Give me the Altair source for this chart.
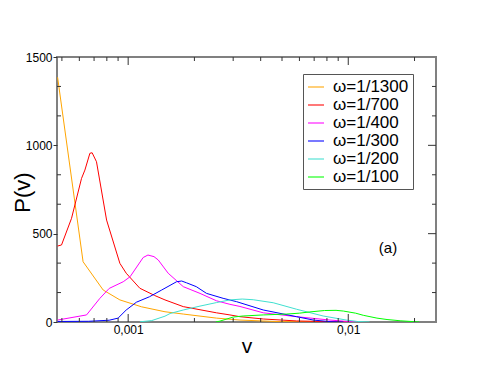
import altair as alt
import pandas as pd

# ---- data ----
series_names = ["ω=1/1300", "ω=1/700", "ω=1/400", "ω=1/300", "ω=1/200", "ω=1/100"]
series_colors = ["#FFA500", "#FF0000", "#FF00FF", "#0000FF", "#40E0D0", "#00FF00"]

v_1300 = [0.000478, 0.000624, 0.00077, 0.000917, 0.00115, 0.00147, 0.00178, 0.00252, 0.00322, 0.0049, 0.0065, 0.01]
p_1300 = [1385, 341, 181, 125, 86, 58, 45, 22, 11, 2, 1, 0]

v_700 = [0.000478, 0.000498, 0.000553, 0.000614, 0.000636, 0.00067, 0.000686, 0.000718, 0.000798, 0.000917,
         0.00098, 0.00113, 0.00132, 0.00147, 0.00178, 0.00252, 0.0029, 0.00322, 0.00411, 0.00583, 0.00826, 0.011]
p_700 = [430, 436, 587, 813, 860, 955, 958, 907, 577, 332, 276, 191, 150, 125, 87, 52, 40, 30, 17, 6, 2, 0]

v_400 = [0.000478, 0.000647, 0.000744, 0.00082, 0.00095, 0.00102, 0.00117, 0.00123, 0.00131, 0.00137, 0.00152,
         0.00178, 0.00212, 0.00252, 0.0029, 0.00322, 0.00411, 0.00583, 0.00826, 0.0095, 0.011]
p_400 = [11, 40, 134, 190, 228, 256, 365, 379, 370, 351, 276, 200, 162, 120, 100, 88, 52, 30, 11, 5, 0]

v_300 = [0.000478, 0.00066, 0.00082, 0.0009, 0.00098, 0.00109, 0.00125, 0.00142, 0.00166, 0.00175, 0.00184,
         0.00204, 0.00227, 0.0027, 0.00311, 0.00411, 0.00583, 0.00694, 0.00826, 0.0095]
p_300 = [3, 4, 10, 22, 68, 112, 143, 181, 228, 232, 222, 200, 162, 134, 115, 68, 30, 11, 2, 0]

v_200 = [0.00113, 0.00128, 0.00147, 0.00155, 0.00178, 0.00212, 0.00252, 0.0029, 0.0033, 0.0037, 0.00456,
         0.00583, 0.00769, 0.0098, 0.011, 0.0125]
p_200 = [1, 8, 33, 48, 68, 90, 110, 125, 130, 126, 109, 72, 34, 11, 3, 0]

v_100 = [0.0025, 0.00261, 0.003, 0.00333, 0.00411, 0.00525, 0.006, 0.00669, 0.0078, 0.0088, 0.0095, 0.0108,
         0.0117, 0.0135, 0.015, 0.0172, 0.0198, 0.021]
p_100 = [0, 5, 28, 34, 40, 45, 50, 57, 65, 66, 62, 50, 38, 22, 14, 7, 2, 0]

x_domain = [0.000475, 0.02504]
y_domain = [0, 1500]
x_label_values = [0.001, 0.01]
x_major_ticks = [0.001, 0.01]
x_minor_ticks = [0.0005, 0.0006, 0.0007, 0.0008, 0.0009, 0.002, 0.003, 0.004, 0.005, 0.006, 0.007, 0.008, 0.009, 0.02]
y_label_values = [0, 500, 1000, 1500]
y_right_major = [500, 1000]
y_minor_ticks = [166.667, 333.333, 666.667, 833.333, 1166.667, 1333.333]

W, H = 379, 265
FONT = "Liberation Sans"
TICK_COLOR = "#333333"

# ---- build table ----
rows = []
for name, vs, ps in zip(series_names,
                        [v_1300, v_700, v_400, v_300, v_200, v_100],
                        [p_1300, p_700, p_400, p_300, p_200, p_100]):
    for v, p in zip(vs, ps):
        rows.append({"series": name, "v": v, "P": p})
df = pd.DataFrame(rows)

xscale = alt.Scale(type="log", domain=x_domain, nice=False)
yscale = alt.Scale(domain=y_domain, nice=False, zero=False)

x_axis = alt.Axis(
    values=x_label_values, labelExpr="replace(toString(datum.value), '.', ',')",
    ticks=False, tickSize=0, domain=False, grid=False,
    labelFont=FONT, labelFontSize=12, labelColor="black", labelPadding=2,
    title="v", titleFont=FONT, titleFontSize=21, titleFontWeight="normal",
    titleBaseline="alphabetic", titleY=30, titleColor="black",
)
y_axis = alt.Axis(
    values=y_label_values, format="d", ticks=True, tickSize=4, tickColor=TICK_COLOR, tickWidth=1,
    domain=False, grid=False,
    labelFont=FONT, labelFontSize=12, labelColor="black", labelPadding=1,
    title="P(v)", titleFont=FONT, titleFontSize=22, titleFontWeight="normal",
    titleBaseline="middle", titleX=-35, titleY=135, titleColor="black",
)

lines = alt.Chart(df).mark_line(strokeWidth=1, clip=True).encode(
    x=alt.X("v:Q", scale=xscale, axis=x_axis),
    y=alt.Y("P:Q", scale=yscale, axis=y_axis),
    color=alt.Color(
        "series:N",
        scale=alt.Scale(domain=series_names, range=series_colors),
        legend=alt.Legend(
            title=None, orient="none", legendX=246, legendY=17,
            symbolType="stroke", symbolSize=256, symbolStrokeWidth=1.5, symbolOpacity=0.7,
            labelFont=FONT, labelFontSize=17, labelColor="black", labelOffset=8,
            padding=4, rowPadding=1, strokeColor="#555555", fillColor="white",
        ),
    ),
    order=alt.Order("v:Q"),
)

xmin_df = pd.DataFrame({"v": x_minor_ticks})
xmaj_df = pd.DataFrame({"v": x_major_ticks})
ymin_df = pd.DataFrame({"P": y_minor_ticks})
ymaj_df = pd.DataFrame({"P": y_right_major})

def xticks(data, y0, y1):
    return alt.Chart(data).mark_rule(color=TICK_COLOR, strokeWidth=1).encode(
        x=alt.X("v:Q", scale=xscale, axis=x_axis), y=alt.value(y0), y2=alt.value(y1))

def yticks(data, x0, x1):
    return alt.Chart(data).mark_rule(color=TICK_COLOR, strokeWidth=1).encode(
        y=alt.Y("P:Q", scale=yscale, axis=y_axis), x=alt.value(x0), x2=alt.value(x1))

tick_layers = [
    xticks(xmin_df, H, H - 4), xticks(xmaj_df, H, H - 8),
    xticks(xmin_df, 0, 4), xticks(xmaj_df, 0, 8),
    yticks(ymin_df, 0, 4),
    yticks(ymin_df, W, W - 4), yticks(ymaj_df, W, W - 8),
]

label_df = pd.DataFrame({"t": ["(a)"]})
annot = alt.Chart(label_df).mark_text(font=FONT, fontSize=15, color="black", align="center",
                                      baseline="alphabetic").encode(
    x=alt.value(331), y=alt.value(196), text="t:N")

chart = alt.layer(lines, *tick_layers, annot).properties(
    width=W, height=H,
    autosize=alt.AutoSizeParams(type="none"),
    padding={"left": 49, "top": 49, "right": 47, "bottom": 49},
).configure_view(stroke="#808080", strokeWidth=2).configure_axis(grid=False)

chart.save("out.html", embed_options={"renderer": "svg", "actions": False})
